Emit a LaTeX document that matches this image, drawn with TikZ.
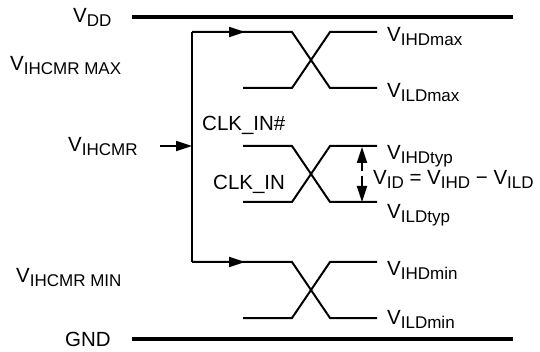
\documentclass[tikz,border=0pt]{standalone}
\usepackage{fontspec}
\setmainfont{Liberation Sans}
\usetikzlibrary{arrows.meta}
\newcommand{\Vsb}[1]{V\raisebox{-4pt}{\fontsize{17}{17}\selectfont #1}}
\newcommand{\mainsz}{\fontsize{20.5}{24}\selectfont}
\tikzset{
  lbl/.style={inner sep=0pt, anchor=base west, font=\mainsz},
  rail/.style={line width=3.5pt},
  wave/.style={line width=2pt},
  tip/.style={-{Triangle[length=16pt,width=10pt]}, line width=2pt},
}
\begin{document}
\begin{tikzpicture}[x=1pt,y=-1pt]
\useasboundingbox (0,0) rectangle (540,352);
% rails
\coordinate (vddL) at (132,17); \coordinate (vddR) at (513,17);
\coordinate (gndL) at (132,339); \coordinate (gndR) at (513,339);
\draw[rail] (vddL) -- (vddR);
\draw[rail] (gndL) -- (gndR);
% left labels
\node[lbl] (vdd) at (73,23) {\Vsb{DD}};
\node[lbl] (vmax) at (10,71) {\Vsb{IHCMR MAX}};
\node[lbl] (vcm) at (68,152) {\Vsb{IHCMR}};
\node[lbl] (vmin) at (16,283) {\Vsb{IHCMR MIN}};
\node[lbl] (gnd) at (65,346) {GND};
% bus line
\coordinate (bT) at (192,32); \coordinate (bM) at (192,146); \coordinate (bB) at (192,262);
\coordinate (cmA) at (160,146);
\draw[wave] (bB) -- (bT);
\draw[tip] (cmA) -- (bM);
\coordinate (aT) at (245,32); \coordinate (aB) at (245,262);
\draw[tip] (bT) -- (aT);
\draw[tip] (bB) -- (aB);
% waveforms: top y, bottom y
\foreach \t/\b/\s in {32/88/0, 146/202/1, 262/318/0}{
  \draw[wave] (\ifnum\s=0 192\else 243\fi,\t) -- (292,\t) -- (330,\b) -- (377,\b);
  \draw[wave] (243,\b) -- (292,\b) -- (330,\t) -- (377,\t);
}
% differential arrow
\coordinate (dT) at (362,147); \coordinate (dB) at (362,202);
\coordinate (dM1) at (362,171); \coordinate (dM2) at (362,176);
\draw[tip] (dM1) -- (dT);
\draw[tip] (dM2) -- (dB);
% middle labels
\node[lbl] (clkn) at (202,131) {CLK\_IN\#};
\node[lbl] (clk) at (213,190) {CLK\_IN};
% right labels
\node[lbl] (ihdmax) at (387,42) {\Vsb{IHDmax}};
\node[lbl] (ildmax) at (387,98) {\Vsb{ILDmax}};
\node[lbl] (ihdtyp) at (387,160) {\Vsb{IHDtyp}};
\node[lbl] (vid) at (373,185) {\Vsb{ID} = \Vsb{IHD} \textminus{} \Vsb{ILD}};
\node[lbl] (ildtyp) at (387,219) {\Vsb{ILDtyp}};
\node[lbl] (ihdmin) at (387,276) {\Vsb{IHDmin}};
\node[lbl] (ildmin) at (387,324) {\Vsb{ILDmin}};
\end{tikzpicture}
\end{document}
